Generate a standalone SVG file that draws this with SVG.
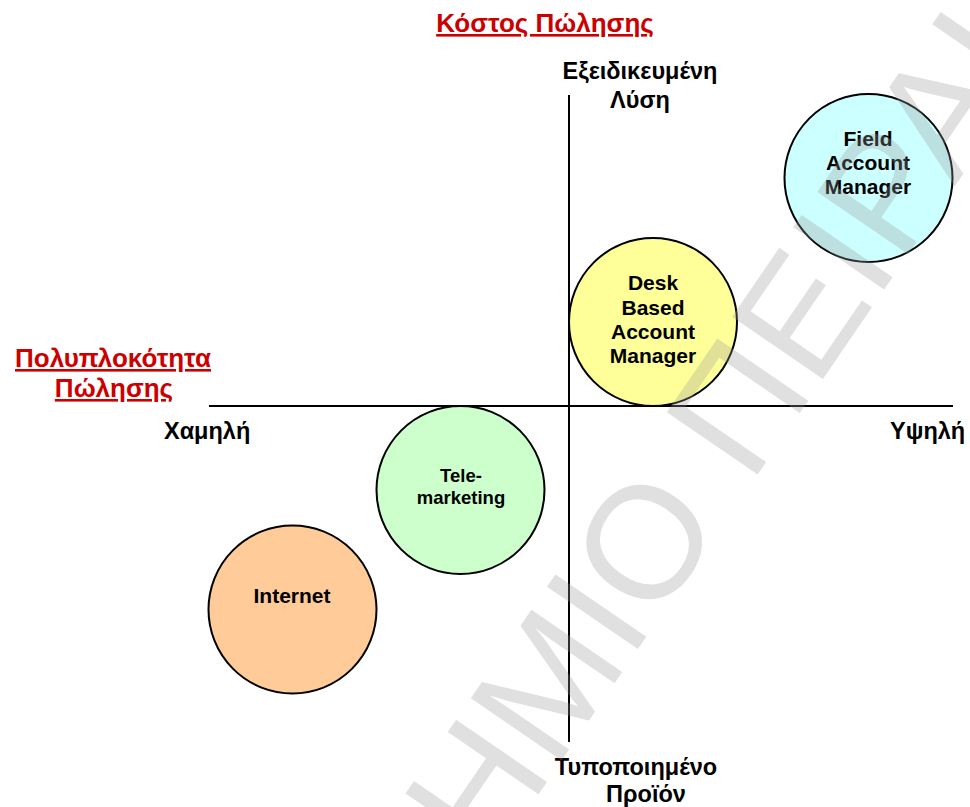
<svg xmlns="http://www.w3.org/2000/svg" width="970" height="807" viewBox="0 0 970 807">
<style>
.ttl{font-family:"Liberation Sans",Arial,sans-serif;font-size:26px;font-weight:bold;fill:#cc0000;text-decoration:underline;text-anchor:middle}
.ax{font-family:"Liberation Sans",Arial,sans-serif;font-size:23.5px;font-weight:bold;fill:#000}
.mid{text-anchor:middle}
.nd{font-family:"Liberation Sans",Arial,sans-serif;font-size:21px;font-weight:bold;fill:#000;text-anchor:middle}
.c{stroke:#000;stroke-width:2}
.axis{stroke:#000;stroke-width:2;fill:none}
.wm{font-family:"Liberation Sans",Arial,sans-serif;font-size:160px;fill:#999;fill-opacity:0.3}
</style>
<rect width="970" height="807" fill="#fff"/>
<g id="titles">
<text class="ttl" x="545" y="32">Κόστος Πώλησης</text>
<text class="ttl" x="113" y="367">Πολυπλοκότητα</text>
<text class="ttl" x="114" y="397">Πώλησης</text>
</g>
<g id="connectors">
<line class="axis" x1="209" y1="406" x2="953" y2="406"/>
<line class="axis" x1="569" y1="95" x2="569" y2="742"/>
</g>
<g id="axis-labels">
<text class="ax mid" x="640" y="79">Εξειδικευμένη</text>
<text class="ax mid" x="640" y="108">Λύση</text>
<text class="ax mid" x="636" y="775">Τυποποιημένο</text>
<text class="ax mid" x="646" y="802">Προϊόν</text>
<text class="ax" x="164" y="439">Χαμηλή</text>
<text class="ax" x="890" y="439">Υψηλή</text>
</g>
<g id="field">
<circle class="c" cx="868.5" cy="178" r="84" fill="#ccffff"/>
<text class="nd" x="868" y="146">Field</text>
<text class="nd" x="868" y="170">Account</text>
<text class="nd" x="868" y="194">Manager</text>
</g>
<g id="desk">
<circle class="c" cx="653" cy="322" r="84" fill="#ffff99"/>
<text class="nd" x="653" y="290">Desk</text>
<text class="nd" x="653" y="315">Based</text>
<text class="nd" x="653" y="339">Account</text>
<text class="nd" x="653" y="363">Manager</text>
</g>
<g id="telemarketing">
<circle class="c" cx="460.5" cy="490" r="84" fill="#ccffcc"/>
<text class="nd" x="461" y="482" style="font-size:18.5px">Tele-</text>
<text class="nd" x="461" y="504" style="font-size:18.5px">marketing</text>
</g>
<g id="internet">
<circle class="c" cx="292.5" cy="609.5" r="84" fill="#ffcc99"/>
<text class="nd" x="292" y="603">Internet</text>
</g>
<g id="watermark" transform="translate(690,573) rotate(-55.6)">
<text class="wm" x="62" y="0" text-anchor="end">ΠΑΝΕΠΙΣΤΗΜΙΟ</text>
<text class="wm" x="106.5" y="0">ΠΕΙΡΑΙΩΣ</text>
</g>
</svg>
